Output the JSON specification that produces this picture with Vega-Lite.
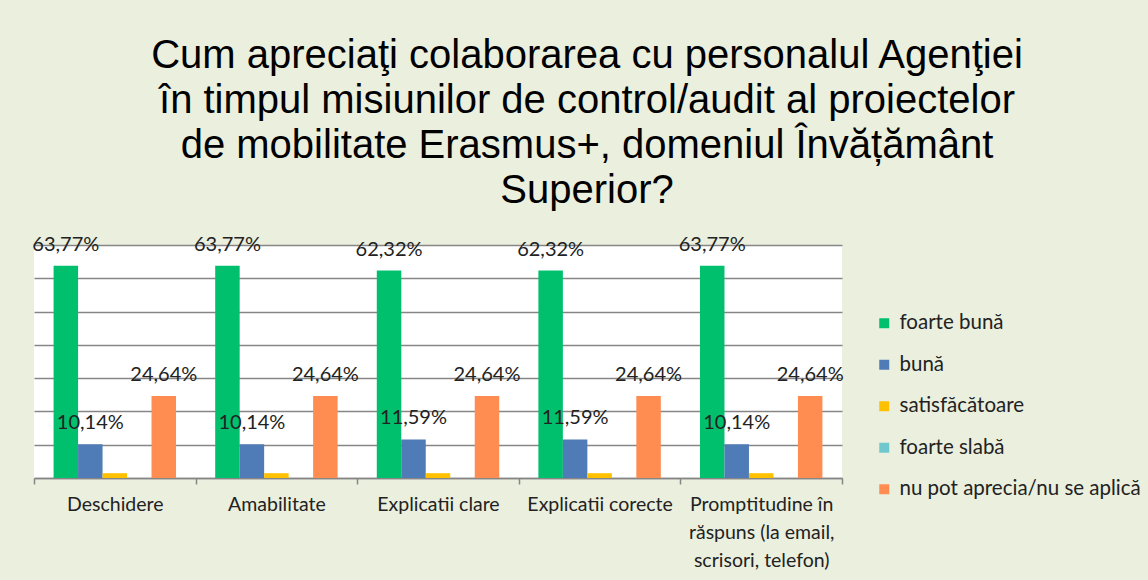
{
  "$schema": "https://vega.github.io/schema/vega-lite/v6.json",
  "width": 808,
  "height": 233,
  "autosize": "none",
  "padding": {"left": 34, "top": 245, "right": 306, "bottom": 102},
  "background": "#ebefde",
  "title": {
    "text": ["Cum apreciaţi colaborarea cu personalul Agenţiei", "în timpul misiunilor de control/audit al proiectelor", "de mobilitate Erasmus+, domeniul Învățământ", "Superior?"],
    "font": "Liberation Sans",
    "fontSize": 40,
    "fontWeight": "normal",
    "color": "#000000",
    "lineHeight": 45,
    "anchor": "middle",
    "frame": "group",
    "dx": 149,
    "offset": 24
  },
  "config": {
    "view": {"stroke": null, "fill": "#ffffff"},
    "font": "Lato"
  },
  "data": {
    "values": [
      {"criteriu": "Deschidere", "raspuns": "foarte bună", "procent": 63.77},
      {"criteriu": "Deschidere", "raspuns": "bună", "procent": 10.14},
      {"criteriu": "Deschidere", "raspuns": "satisfăcătoare", "procent": 1.45},
      {"criteriu": "Deschidere", "raspuns": "foarte slabă", "procent": 0},
      {"criteriu": "Deschidere", "raspuns": "nu pot aprecia/nu se aplică", "procent": 24.64},
      {"criteriu": "Amabilitate", "raspuns": "foarte bună", "procent": 63.77},
      {"criteriu": "Amabilitate", "raspuns": "bună", "procent": 10.14},
      {"criteriu": "Amabilitate", "raspuns": "satisfăcătoare", "procent": 1.45},
      {"criteriu": "Amabilitate", "raspuns": "foarte slabă", "procent": 0},
      {"criteriu": "Amabilitate", "raspuns": "nu pot aprecia/nu se aplică", "procent": 24.64},
      {"criteriu": "Explicatii clare", "raspuns": "foarte bună", "procent": 62.32},
      {"criteriu": "Explicatii clare", "raspuns": "bună", "procent": 11.59},
      {"criteriu": "Explicatii clare", "raspuns": "satisfăcătoare", "procent": 1.45},
      {"criteriu": "Explicatii clare", "raspuns": "foarte slabă", "procent": 0},
      {"criteriu": "Explicatii clare", "raspuns": "nu pot aprecia/nu se aplică", "procent": 24.64},
      {"criteriu": "Explicatii corecte", "raspuns": "foarte bună", "procent": 62.32},
      {"criteriu": "Explicatii corecte", "raspuns": "bună", "procent": 11.59},
      {"criteriu": "Explicatii corecte", "raspuns": "satisfăcătoare", "procent": 1.45},
      {"criteriu": "Explicatii corecte", "raspuns": "foarte slabă", "procent": 0},
      {"criteriu": "Explicatii corecte", "raspuns": "nu pot aprecia/nu se aplică", "procent": 24.64},
      {"criteriu": "Promptitudine în răspuns (la email, scrisori, telefon)", "raspuns": "foarte bună", "procent": 63.77},
      {"criteriu": "Promptitudine în răspuns (la email, scrisori, telefon)", "raspuns": "bună", "procent": 10.14},
      {"criteriu": "Promptitudine în răspuns (la email, scrisori, telefon)", "raspuns": "satisfăcătoare", "procent": 1.45},
      {"criteriu": "Promptitudine în răspuns (la email, scrisori, telefon)", "raspuns": "foarte slabă", "procent": 0},
      {"criteriu": "Promptitudine în răspuns (la email, scrisori, telefon)", "raspuns": "nu pot aprecia/nu se aplică", "procent": 24.64}
    ]
  },
  "transform": [
    {"calculate": "replace(format(datum.procent, '.2f'), '.', ',') + '%'", "as": "eticheta"}
  ],
  "encoding": {
    "x": {
      "field": "criteriu",
      "type": "nominal",
      "sort": null,
      "scale": {"paddingInner": 0, "paddingOuter": 0},
      "axis": {
        "title": null,
        "labelAngle": 0,
        "labelFont": "Lato",
        "labelFontSize": 19.5,
        "labelColor": "#222222",
        "labelPadding": 11,
        "labelLineHeight": 28,
        "labelLimit": 200,
        "labelExpr": "datum.value == 'Promptitudine în răspuns (la email, scrisori, telefon)' ? ['Promptitudine în', 'răspuns (la email,', 'scrisori, telefon)'] : datum.value",
        "tickBand": "extent",
        "tickSize": 6,
        "tickColor": "#868686",
        "tickWidth": 1.5,
        "domainColor": "#868686",
        "domainWidth": 1.5
      }
    },
    "xOffset": {
      "field": "raspuns",
      "type": "nominal",
      "sort": ["foarte bună", "bună", "satisfăcătoare", "foarte slabă", "nu pot aprecia/nu se aplică"],
      "scale": {"paddingInner": 0, "paddingOuter": 0.8}
    },
    "y": {
      "field": "procent",
      "type": "quantitative",
      "scale": {"domain": [0, 70], "nice": false},
      "axis": {
        "title": null,
        "labels": false,
        "ticks": false,
        "domain": false,
        "values": [0, 10, 20, 30, 40, 50, 60, 70],
        "grid": true,
        "gridColor": "#868686",
        "gridWidth": 1.5
      }
    }
  },
  "layer": [
    {
      "mark": {"type": "bar"},
      "encoding": {
        "color": {
          "field": "raspuns",
          "type": "nominal",
          "scale": {
            "domain": ["foarte bună", "bună", "satisfăcătoare", "foarte slabă", "nu pot aprecia/nu se aplică"],
            "range": ["#00c06e", "#4f7bb7", "#ffc000", "#6fc8ce", "#ff8c50"]
          },
          "legend": {
            "title": null,
            "orient": "none",
            "legendX": 840,
            "legendY": 68,
            "symbolType": "square",
            "symbolSize": 100,
            "symbolStrokeWidth": 0,
            "labelFont": "Lato",
            "labelFontSize": 20.5,
            "labelColor": "#222222",
            "labelLimit": 300,
            "labelOffset": 5,
            "rowPadding": 20.5
          }
        }
      }
    },
    {
      "transform": [{"filter": "datum.procent > 5"}],
      "mark": {"type": "text", "baseline": "middle", "dy": -21, "font": "Lato", "fontSize": 20, "color": "#222222"},
      "encoding": {
        "text": {"field": "eticheta", "type": "nominal"}
      }
    }
  ]
}
